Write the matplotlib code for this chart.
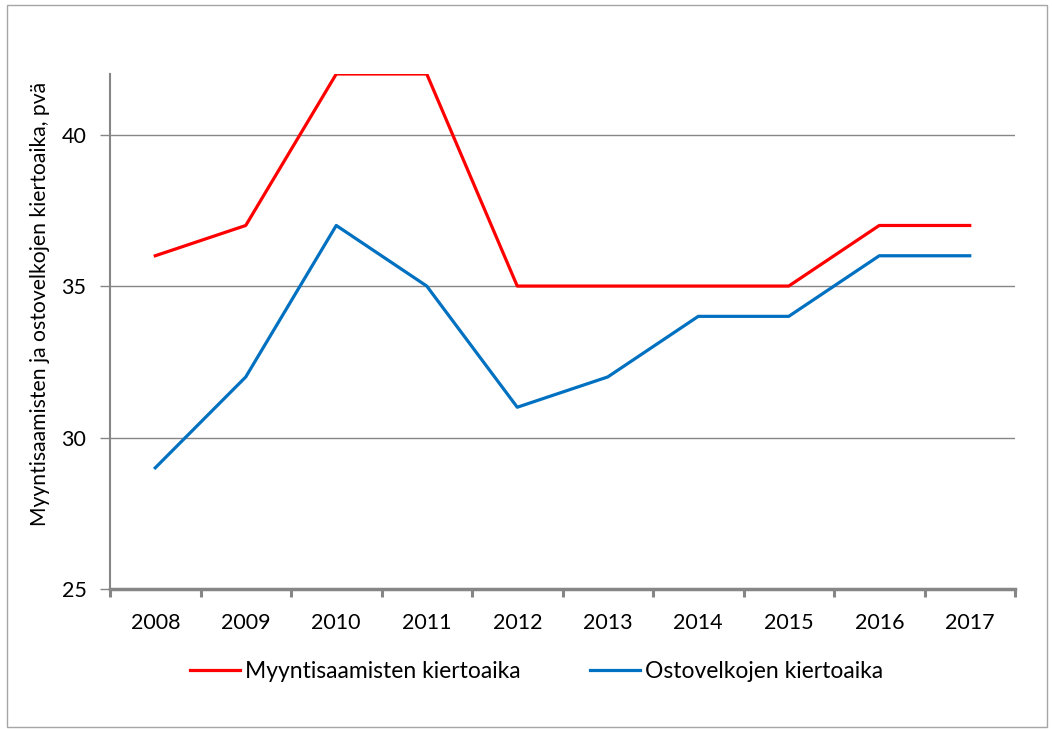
import matplotlib
matplotlib.use('Agg')
import matplotlib.pyplot as plt
from matplotlib.patches import Rectangle

years = ['2008', '2009', '2010', '2011', '2012', '2013', '2014', '2015', '2016', '2017']
myyntisaamiset = [36, 37, 42, 42, 35, 35, 35, 35, 37, 37]
ostovelat = [29, 32, 37, 35, 31, 32, 34, 34, 36, 36]

plt.rcParams['font.family'] = ['Lato', 'DejaVu Sans']
plt.rcParams['font.size'] = 15.5

fig = plt.figure(figsize=(10.52, 7.29), dpi=100)
ax = fig.add_axes([110 / 1052, 1 - 589 / 729, 905 / 1052, 515 / 729])

x = list(range(len(years)))
ax.plot(x, myyntisaamiset, color='#FF0000', lw=2.3, label='Myyntisaamisten kiertoaika')
ax.plot(x, ostovelat, color='#0070C0', lw=2.3, label='Ostovelkojen kiertoaika')

ax.set_xlim(-0.5, len(years) - 0.5)
ax.set_ylim(25, 42)
ax.set_yticks([25, 30, 35, 40])
ax.set_xticks(x)
ax.set_xticklabels(years)
ax.set_xticks([i - 0.5 for i in range(len(years) + 1)], minor=True)
ax.tick_params(axis='x', which='major', length=0, pad=17)
ax.tick_params(axis='x', which='minor', length=6, width=2.2, color='#868686')
ax.tick_params(axis='y', length=7, width=1, color='#868686', pad=10)

for y in [30, 35, 40]:
    ax.axhline(y, color='#868686', lw=1, zorder=0)

for s in ['top', 'right']:
    ax.spines[s].set_visible(False)
ax.spines['left'].set_color('#868686')
ax.spines['left'].set_linewidth(1.5)
ax.spines['bottom'].set_color('#868686')
ax.spines['bottom'].set_linewidth(2.5)

ax.set_ylabel('Myyntisaamisten ja ostovelkojen kiertoaika, pvä', fontsize=15.2)
ax.yaxis.set_label_coords(-0.066, 0.553)

fig.legend(loc='center left', bbox_to_anchor=(190 / 1052, 1 - 672 / 729), ncol=2,
           frameon=False, fontsize=16.5, handlelength=2.2, columnspacing=3.0,
           handletextpad=0.22, borderpad=0, borderaxespad=0)

fig.patches.append(Rectangle((7 / 1052, 2 / 729), 1040 / 1052, 722 / 729,
                             transform=fig.transFigure, fill=False,
                             edgecolor='#A6A6A6', lw=1))

fig.savefig('out.png', dpi=100)
